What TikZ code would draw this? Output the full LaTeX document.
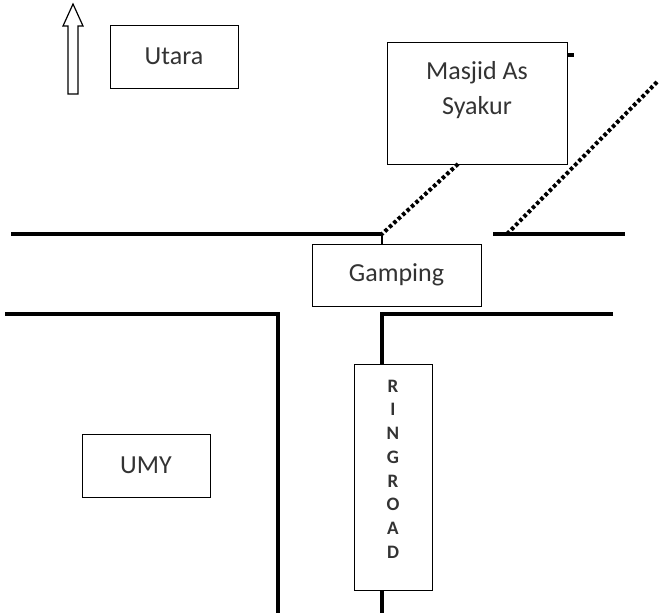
\documentclass[tikz,border=0pt]{standalone}
\usepackage{fontspec}
\setmainfont{Carlito}
\usetikzlibrary{positioning}

\begin{document}
\begin{tikzpicture}
[x=1pt, y=-1pt,
box/.style={rectangle, draw=black, thick, inner sep=0pt},
txt/.style={font=\fontsize{26}{35}\selectfont, text=black!80, align=center},
road/.style={line width=4.5pt},
lane/.style={line width=4pt, dash pattern=on 3.5pt off 2.5pt},
tick/.style={line width=2.5pt}]

\useasboundingbox (0,0) rectangle (659,613);

% Draw places
\node [box, txt, minimum width=128pt, minimum height=63pt] (utara) at (174,56.5) {Utara};
\node [box, minimum width=180pt, minimum height=122pt] (masjid) at (477,103) {};
\node [txt] (masjidtext) at (477,90) {Masjid As\\Syakur};
\node [box, txt, minimum width=169pt, minimum height=62pt] (gamping) at (396.5,275) {Gamping};
\node [box, minimum width=78pt, minimum height=226pt] (ringroad) at (393,477) {};
\node [txt, font=\bfseries\fontsize{19}{23.7}\selectfont] (ringtext) at (393,469)
{R\\I\\N\\G\\R\\O\\A\\D};
\node [box, txt, minimum width=128pt, minimum height=63pt] (umy) at (146,465.5) {UMY};

% North arrow
\draw [line width=1.2pt, line join=miter] (68,94) -- (68,26) -- (63,26) -- (73,4)
-- (83,26) -- (78,26) -- (78,94) -- cycle;

% Roads
\coordinate (jl1) at (382,234);
\coordinate (jl2) at (507,234);
\coordinate (jl3) at (382,314);
\draw [road] (11,234) -- (jl1);
\draw [road] (493,234) -- (625,234);
\draw [road] (5,314) -- (278,314) -- (278,613);
\draw [road] (613,314) -- (jl3) -- (jl3 |- ringroad.north);
\draw [road] (ringroad.south -| jl3) -- (382,613);
\draw [tick] (jl1) -- (jl1 |- gamping.north);

% Small paths
\draw [lane] (458,164) -- (jl1);
\draw [lane] (657,82) -- (jl2);
\draw [line width=4pt] (masjid.north east) ++(0,13) -- ++(7,0);

\end{tikzpicture}
\end{document}
